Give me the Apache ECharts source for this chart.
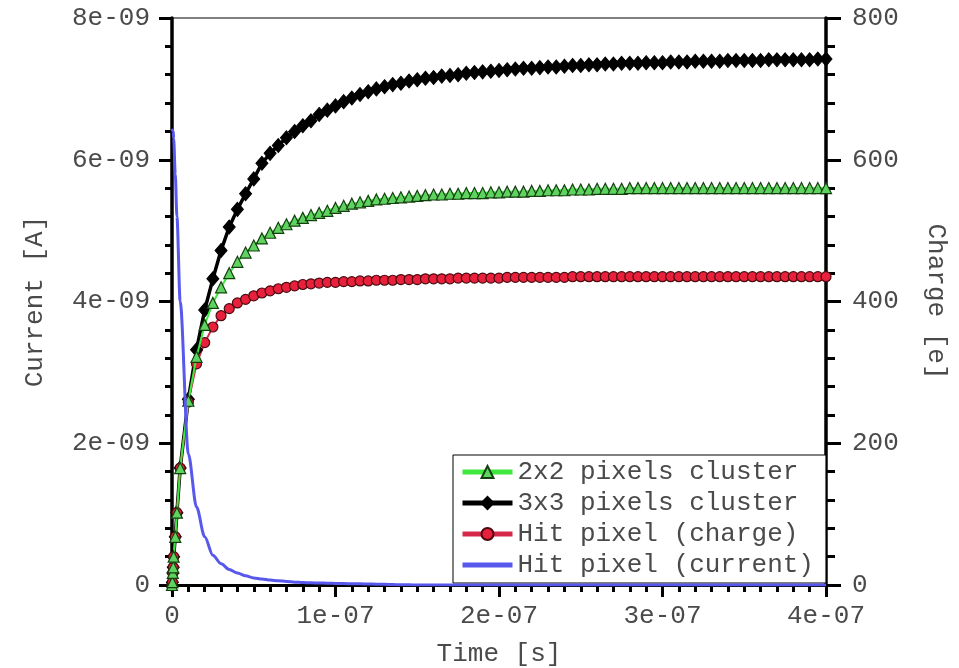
<!DOCTYPE html>
<html>
<head>
<meta charset="utf-8">
<script src="https://cdn.jsdelivr.net/npm/echarts@6/dist/echarts.min.js"></script>
<style>
  html, body { margin: 0; padding: 0; background: #fff; }
  #chart { width: 959px; height: 668px; }
</style>
</head>
<body>
<div id="chart"></div>
<script>
// time in ns, charges in e, current in nA
const timeNs = [0, 0.25, 0.5, 0.75, 1, 2, 3, 5,
  10, 15, 20, 25, 30, 35, 40, 45, 50, 55, 60, 65, 70, 75, 80, 85, 90, 95, 100,
  105, 110, 115, 120, 125, 130, 135, 140, 145, 150, 155, 160, 165, 170, 175, 180, 185, 190, 195, 200,
  205, 210, 215, 220, 225, 230, 235, 240, 245, 250, 255, 260, 265, 270, 275, 280, 285, 290, 295, 300,
  305, 310, 315, 320, 325, 330, 335, 340, 345, 350, 355, 360, 365, 370, 375, 380, 385, 390, 395, 400];

const cluster2x2 = [0, 4, 17, 25, 40, 68, 102, 165,
  260, 322, 367, 398, 420, 440, 456, 469, 479, 489, 497, 504, 509, 514, 518, 522, 525, 528, 532,
  535, 538, 540, 542, 544, 545, 546, 547, 548, 549, 550, 551, 551, 552, 552, 553, 553, 553, 554, 554,
  555, 555, 555, 556, 556, 557, 557, 557, 558, 558, 558, 559, 559, 559, 559, 560, 560, 560, 560, 560,
  560, 560, 560, 560, 560, 560, 560, 560, 560, 560, 560, 560, 560, 560, 560, 560, 560, 560, 560, 560];

const cluster3x3 = [0, 4, 17, 25, 40, 68, 102, 165,
  262, 332, 388, 432, 472, 505, 530, 552, 573, 595, 609, 620, 631, 640, 648, 655, 664, 670, 676,
  682, 687, 692, 696, 700, 703, 706, 708, 711, 713, 715, 716, 718, 719, 720, 722, 723, 724, 725, 726,
  727, 728, 729, 729, 730, 731, 731, 732, 733, 733, 734, 734, 735, 735, 736, 736, 736, 737, 737, 737,
  738, 738, 738, 739, 739, 739, 739, 740, 740, 740, 740, 740, 741, 741, 741, 741, 741, 741, 742, 742];

const hitCharge = [0, 4, 17, 25, 40, 68, 102, 165,
  258, 312, 342, 364, 380, 390, 398, 403, 408, 412, 415, 418, 420, 422, 424, 425, 426, 427, 427,
  428, 428, 429, 429, 430, 430, 430, 431, 431, 431, 432, 432, 432, 432, 433, 433, 433, 433, 433, 433,
  434, 434, 434, 434, 434, 434, 434, 434, 435, 435, 435, 435, 435, 435, 435, 435, 435, 435, 435, 435,
  435, 435, 435, 435, 435, 435, 435, 435, 435, 435, 435, 435, 435, 435, 435, 435, 435, 435, 435, 435];

const hitCurrent = [6.4, 6.42, 6.42, 6.4, 6.3, 5.8, 5.2, 4.0,
  1.85, 1.1, 0.68, 0.42, 0.3, 0.22, 0.17, 0.13, 0.1, 0.085, 0.07, 0.06, 0.05, 0.04, 0.035, 0.03, 0.028, 0.025, 0.022,
  0.02, 0.018, 0.016, 0.014, 0.012, 0.01, 0.006, 0.004, 0.002, 0.001, 0, 0, 0, 0, 0, 0, 0, 0, 0, 0,
  0, 0, 0, 0, 0, 0, 0, 0, 0, 0, 0, 0, 0, 0, 0, 0, 0, 0, 0, 0,
  0, 0, 0, 0, 0, 0, 0, 0, 0, 0, 0, 0, 0, 0, 0, 0, 0, 0, 0, 0];

const xTickLabels = { 0: "0", 100: "1e-07", 200: "2e-07", 300: "3e-07", 400: "4e-07" };
const leftTickLabels = { 0: "0", 2: "2e-09", 4: "4e-09", 6: "6e-09", 8: "8e-09" };

const FONT = "'Liberation Mono', 'Courier New', monospace";
const TXT = "#4a4a4a";

function pairs(values) {
  return timeNs.map((t, i) => [t, values[i]]);
}

const tickStyle = { color: "#000", width: 3 };

const chart = echarts.init(document.getElementById("chart"), null, { renderer: "canvas" });
chart.setOption({
  animation: false,
  backgroundColor: "#fff",
  grid: {
    left: 172, right: 133, top: 18, bottom: 83, outerBoundsMode: "none",
    show: true, borderColor: "#000", borderWidth: 1
  },
  legend: {
    left: 453, top: 455, orient: "vertical",
    backgroundColor: "#fff", borderColor: "#000", borderWidth: 1,
    padding: [4, 12, 5, 7], itemGap: 5, itemWidth: 50, itemHeight: 15,
    lineStyle: { width: 5 },
    textStyle: { fontFamily: FONT, fontSize: 26, color: TXT, lineHeight: 26 },
    data: [
      "2x2 pixels cluster",
      "3x3 pixels cluster",
      "Hit pixel (charge)",
      { name: "Hit pixel (current)", itemStyle: { opacity: 0 } }
    ]
  },
  xAxis: {
    type: "value", min: 0, max: 400, interval: 100,
    name: "Time [s]", nameLocation: "middle", nameGap: 56,
    nameTextStyle: { fontFamily: FONT, fontSize: 26, color: TXT },
    axisLine: { lineStyle: { color: "#000", width: 3 } },
    axisTick: { length: 12, lineStyle: tickStyle },
    minorTick: { show: true, splitNumber: 10, length: 7, lineStyle: tickStyle },
    splitLine: { show: false },
    axisLabel: { margin: 18, fontFamily: FONT, fontSize: 26, color: TXT, formatter: v => xTickLabels[v] }
  },
  yAxis: [{
    type: "value", min: 0, max: 8, interval: 2, position: "left",
    name: "Current [A]", nameLocation: "middle", nameGap: 124,
    nameTextStyle: { fontFamily: FONT, fontSize: 26, color: TXT },
    axisLine: { show: true, lineStyle: { color: "#000", width: 3.5 } },
    axisTick: { length: 13, lineStyle: tickStyle },
    minorTick: { show: true, splitNumber: 5, length: 7, lineStyle: tickStyle },
    splitLine: { show: false },
    axisLabel: { margin: 22, fontFamily: FONT, fontSize: 26, color: TXT, formatter: v => leftTickLabels[v] }
  }, {
    type: "value", min: 0, max: 800, interval: 200, position: "right",
    name: "Charge [e]", nameLocation: "middle", nameGap: 97, nameRotate: -90,
    nameTextStyle: { fontFamily: FONT, fontSize: 26, color: TXT },
    axisLine: { show: true, lineStyle: { color: "#000", width: 3.5 } },
    axisTick: { length: 15, lineStyle: tickStyle },
    minorTick: { show: true, splitNumber: 5, length: 9, lineStyle: tickStyle },
    splitLine: { show: false },
    axisLabel: { margin: 26, fontFamily: FONT, fontSize: 26, color: TXT }
  }],
  series: [{
    name: "2x2 pixels cluster", type: "line", yAxisIndex: 1, z: 3,
    data: pairs(cluster2x2),
    symbol: "triangle", symbolSize: 11,
    lineStyle: { color: "#3ee83e", width: 2 },
    itemStyle: { color: "#5fd35f", borderColor: "#14400f", borderWidth: 1.2 }
  }, {
    name: "3x3 pixels cluster", type: "line", yAxisIndex: 1, z: 2,
    data: pairs(cluster3x3),
    symbol: "diamond", symbolSize: [12, 14],
    lineStyle: { color: "#000", width: 3.5 },
    itemStyle: { color: "#000", borderColor: "#000", borderWidth: 1 }
  }, {
    name: "Hit pixel (charge)", type: "line", yAxisIndex: 1, z: 2,
    data: pairs(hitCharge),
    symbol: "circle", symbolSize: 10,
    lineStyle: { color: "#d62848", width: 2 },
    itemStyle: { color: "#e8203c", borderColor: "#4a0a10", borderWidth: 1.2 }
  }, {
    name: "Hit pixel (current)", type: "line", yAxisIndex: 0, z: 4,
    data: pairs(hitCurrent),
    showSymbol: false, symbol: "none", smooth: 0.3, smoothMonotone: "x",
    lineStyle: { color: "#5858ec", width: 3 },
    itemStyle: { color: "#5858ec" }
  }]
});
</script>
</body>
</html>
